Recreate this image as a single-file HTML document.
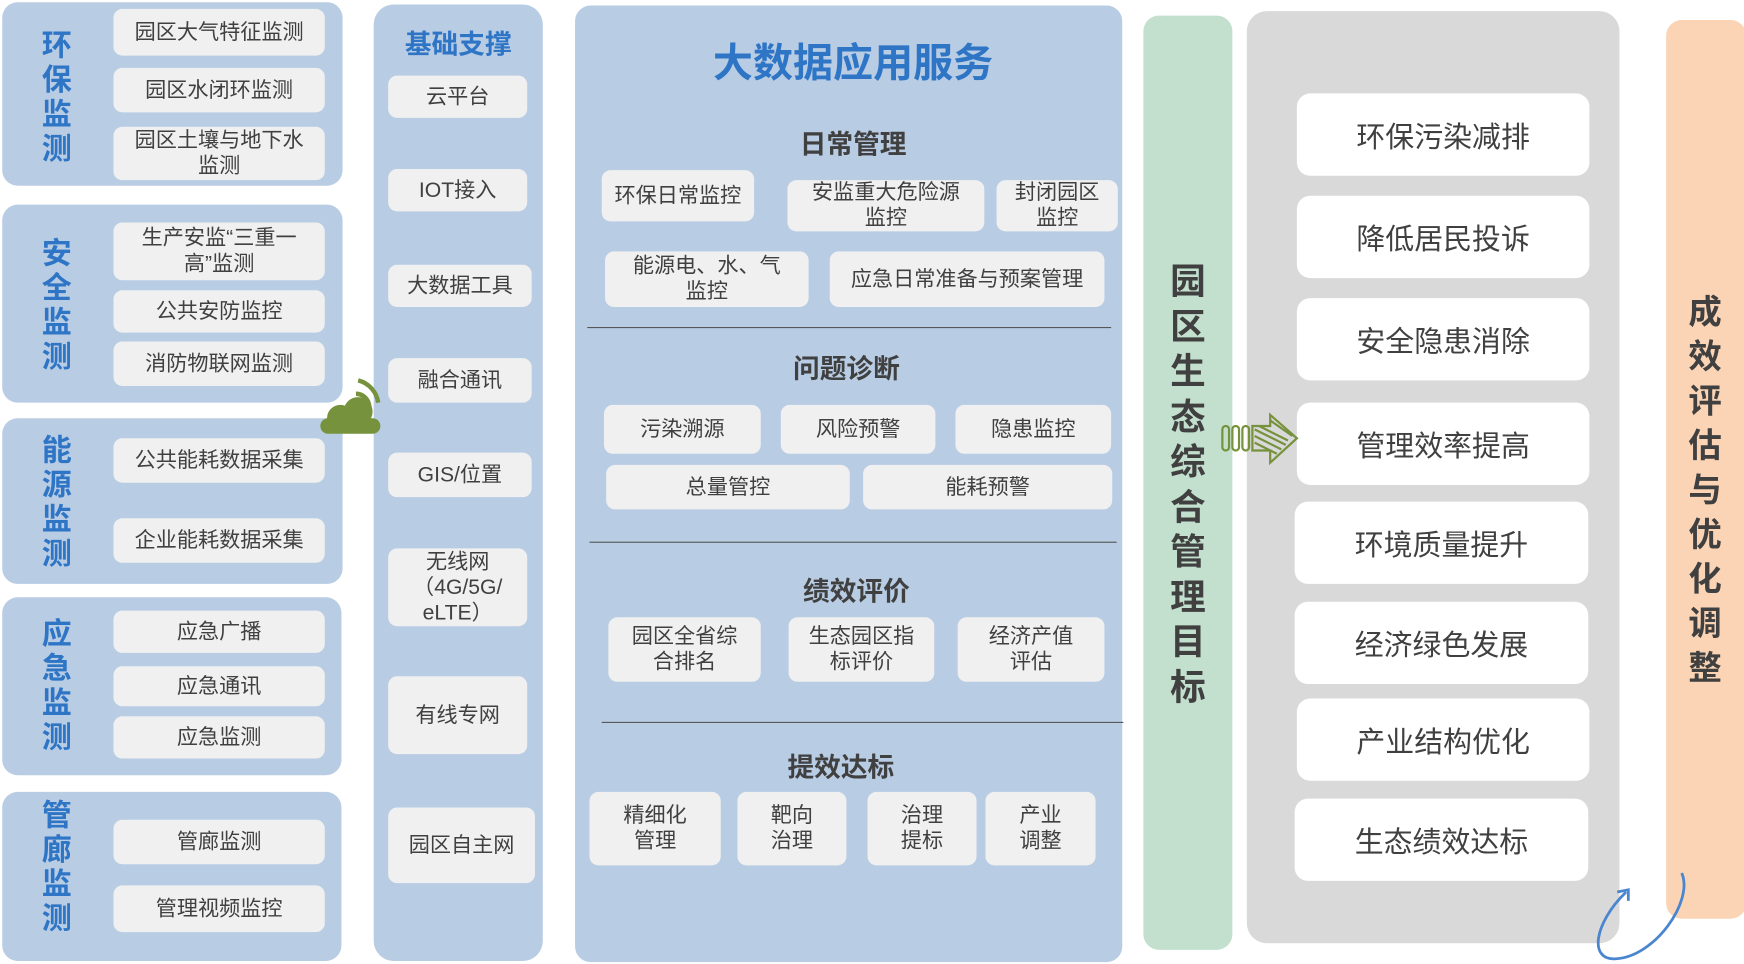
<!DOCTYPE html>
<html><head><meta charset="utf-8"><style>
html,body{margin:0;padding:0;background:#fff;width:1744px;height:964px;overflow:hidden}
#w{position:absolute;left:0;top:0;width:1568px;height:867px;transform:scale(1.11225);transform-origin:0 0;font-family:"Liberation Sans","Noto Sans CJK SC",sans-serif;color:#404040}
.p{position:absolute;border-radius:14px}
.b{position:absolute;background:#f0f0f0;border-radius:8px;display:flex;align-items:center;justify-content:center;text-align:center;font-size:19px;line-height:23px}
.w{position:absolute;background:#fff;border-radius:12px;display:flex;align-items:center;justify-content:center;font-size:26px;left:1166px;width:263px;height:74px}
.v{position:absolute;font-weight:bold;text-align:center}
.t{position:absolute;font-weight:bold;font-size:24px;text-align:center}
.ln{position:absolute;height:1px;background:#555}
svg{z-index:5}
</style></head><body><div id="w">
<!-- left panels -->
<div class="p" style="left:2px;top:2px;width:306px;height:165px;background:#b8cce4"></div>
<div class="v" style="left:34px;top:26px;width:34px;font-size:27px;line-height:31px;color:#2e75c6">环<br>保<br>监<br>测</div>
<div class="b" style="left:102px;top:8px;width:190px;height:42px">园区大气特征监测</div>
<div class="b" style="left:102px;top:61px;width:190px;height:40px">园区水闭环监测</div>
<div class="b" style="left:102px;top:114px;width:190px;height:48px">园区土壤与地下水<br>监测</div>

<div class="p" style="left:2px;top:184px;width:306px;height:178px;background:#b8cce4"></div>
<div class="v" style="left:34px;top:213px;width:34px;font-size:27px;line-height:31px;color:#2e75c6">安<br>全<br>监<br>测</div>
<div class="b" style="left:102px;top:200px;width:190px;height:52px">生产安监“三重一<br>高”监测</div>
<div class="b" style="left:102px;top:261px;width:190px;height:38px">公共安防监控</div>
<div class="b" style="left:102px;top:307px;width:190px;height:40px">消防物联网监测</div>

<div class="p" style="left:2px;top:376px;width:306px;height:149px;background:#b8cce4"></div>
<div class="v" style="left:34px;top:390px;width:34px;font-size:27px;line-height:31px;color:#2e75c6">能<br>源<br>监<br>测</div>
<div class="b" style="left:102px;top:394px;width:190px;height:40px">公共能耗数据采集</div>
<div class="b" style="left:102px;top:466px;width:190px;height:40px">企业能耗数据采集</div>

<div class="p" style="left:2px;top:537px;width:305px;height:160px;background:#b8cce4"></div>
<div class="v" style="left:34px;top:555px;width:34px;font-size:27px;line-height:31px;color:#2e75c6">应<br>急<br>监<br>测</div>
<div class="b" style="left:102px;top:549px;width:190px;height:38px">应急广播</div>
<div class="b" style="left:102px;top:599px;width:190px;height:36px">应急通讯</div>
<div class="b" style="left:102px;top:644px;width:190px;height:38px">应急监测</div>

<div class="p" style="left:2px;top:712px;width:305px;height:152px;background:#b8cce4"></div>
<div class="v" style="left:34px;top:718px;width:34px;font-size:27px;line-height:31px;color:#2e75c6">管<br>廊<br>监<br>测</div>
<div class="b" style="left:102px;top:737px;width:190px;height:40px">管廊监测</div>
<div class="b" style="left:102px;top:796px;width:190px;height:42px">管理视频监控</div>

<!-- 基础支撑 -->
<div class="p" style="left:336px;top:4px;width:152px;height:860px;background:#b8cce4;border-radius:18px"></div>
<div class="t" style="left:336px;top:20px;width:152px;color:#2e75c6">基础支撑</div>
<div class="b" style="left:349px;top:68px;width:125px;height:38px">云平台</div>
<div class="b" style="left:349px;top:152px;width:125px;height:38px">IOT接入</div>
<div class="b" style="left:349px;top:238px;width:129px;height:38px">大数据工具</div>
<div class="b" style="left:349px;top:322px;width:129px;height:40px">融合通讯</div>
<div class="b" style="left:349px;top:407px;width:129px;height:40px">GIS/位置</div>
<div class="b" style="left:349px;top:493px;width:125px;height:70px">无线网<br>（4G/5G/<br>eLTE）</div>
<div class="b" style="left:349px;top:608px;width:125px;height:70px">有线专网</div>
<div class="b" style="left:349px;top:726px;width:132px;height:68px">园区自主网</div>

<!-- wifi cloud -->
<svg style="position:absolute;left:284px;top:334px" width="62" height="60">
<circle cx="22" cy="42" r="12" fill="#76923c"/><circle cx="38" cy="36" r="13" fill="#76923c"/><rect x="4" y="42" width="54" height="14" rx="7" fill="#76923c"/>
<path d="M36 20 A12 12 0 0 1 48 32" stroke="#76923c" stroke-width="4" fill="none"/>
<path d="M38 8 A24 24 0 0 1 56 28" stroke="#76923c" stroke-width="4" fill="none"/>
</svg>

<!-- 大数据应用服务 -->
<div class="p" style="left:517px;top:5px;width:492px;height:860px;background:#b8cce4"></div>
<div class="v" style="left:517px;top:28px;width:500px;font-size:36px;color:#2e75c6">大数据应用服务</div>
<div class="t" style="left:517px;top:110px;width:500px">日常管理</div>
<div class="b" style="left:541px;top:153px;width:137px;height:46px">环保日常监控</div>
<div class="b" style="left:708px;top:162px;width:177px;height:46px">安监重大危险源<br>监控</div>
<div class="b" style="left:896px;top:162px;width:109px;height:46px">封闭园区<br>监控</div>
<div class="b" style="left:544px;top:226px;width:183px;height:50px">能源电、水、气<br>监控</div>
<div class="b" style="left:746px;top:226px;width:247px;height:50px">应急日常准备与预案管理</div>
<div class="ln" style="left:528px;top:294px;width:471px"></div>
<div class="t" style="left:511px;top:312px;width:500px">问题诊断</div>
<div class="b" style="left:543px;top:364px;width:141px;height:44px">污染溯源</div>
<div class="b" style="left:702px;top:364px;width:139px;height:44px">风险预警</div>
<div class="b" style="left:859px;top:364px;width:140px;height:44px">隐患监控</div>
<div class="b" style="left:545px;top:418px;width:219px;height:40px">总量管控</div>
<div class="b" style="left:776px;top:418px;width:224px;height:40px">能耗预警</div>
<div class="ln" style="left:530px;top:487px;width:474px"></div>
<div class="t" style="left:520px;top:512px;width:500px">绩效评价</div>
<div class="b" style="left:547px;top:555px;width:137px;height:58px">园区全省综<br>合排名</div>
<div class="b" style="left:709px;top:555px;width:131px;height:58px">生态园区指<br>标评价</div>
<div class="b" style="left:861px;top:555px;width:132px;height:58px">经济产值<br>评估</div>
<div class="ln" style="left:541px;top:649px;width:469px"></div>
<div class="t" style="left:506px;top:670px;width:500px">提效达标</div>
<div class="b" style="left:530px;top:712px;width:118px;height:66px">精细化<br>管理</div>
<div class="b" style="left:663px;top:712px;width:98px;height:66px">靶向<br>治理</div>
<div class="b" style="left:780px;top:712px;width:98px;height:66px">治理<br>提标</div>
<div class="b" style="left:886px;top:712px;width:99px;height:66px">产业<br>调整</div>

<!-- green -->
<div class="p" style="left:1028px;top:14px;width:80px;height:840px;background:#c3e0cf"></div>
<div class="v" style="left:1028px;top:233px;width:80px;font-size:32px;line-height:40.5px;color:#404040">园<br>区<br>生<br>态<br>综<br>合<br>管<br>理<br>目<br>标</div>

<!-- gray -->
<div class="p" style="left:1121px;top:10px;width:335px;height:838px;background:#d9d9d9;border-radius:18px"></div>
<div class="w" style="top:84px">环保污染减排</div>
<div class="w" style="top:176px">降低居民投诉</div>
<div class="w" style="top:268px">安全隐患消除</div>
<div class="w" style="top:362px">管理效率提高</div>
<div class="w" style="top:451px;left:1164px;width:264px">环境质量提升</div>
<div class="w" style="top:541px;left:1164px;width:264px">经济绿色发展</div>
<div class="w" style="top:628px">产业结构优化</div>
<div class="w" style="top:718px;left:1164px;width:264px">生态绩效达标</div>

<!-- arrow -->
<svg style="position:absolute;left:1096px;top:370px" width="74" height="50">
<g fill="none" stroke="#76923c" stroke-width="2">
<rect x="3" y="13" width="6" height="22" rx="3"/><rect x="12" y="13" width="6" height="22" rx="3"/><rect x="21" y="13" width="6" height="22" rx="3"/>
<path d="M30 13 H46 V3 L70 24 L46 46 V35 H30 Z"/>
<path d="M32 16 L60 30 M32 22 L56 34 M32 28 L52 38 M46 8 L66 22 M36 13 L62 26"/>
</g></svg>

<!-- peach -->
<div class="p" style="left:1498px;top:18px;width:72px;height:808px;background:#fad4b4"></div>
<div class="v" style="left:1498px;top:262px;width:70px;font-size:30px;line-height:40px;color:#404040">成<br>效<br>评<br>估<br>与<br>优<br>化<br>调<br>整</div>

<!-- blue curve arrow -->
<svg style="position:absolute;left:1428px;top:780px" width="100" height="87">
<path d="M84 5 C95 30 60 80 25 82 C0 84 5 50 34 22" fill="none" stroke="#4a86d0" stroke-width="2.5"/>
<path d="M26 22 L36 20 L36 30" fill="none" stroke="#4a86d0" stroke-width="2.5"/>
</svg>
</div></body></html>
